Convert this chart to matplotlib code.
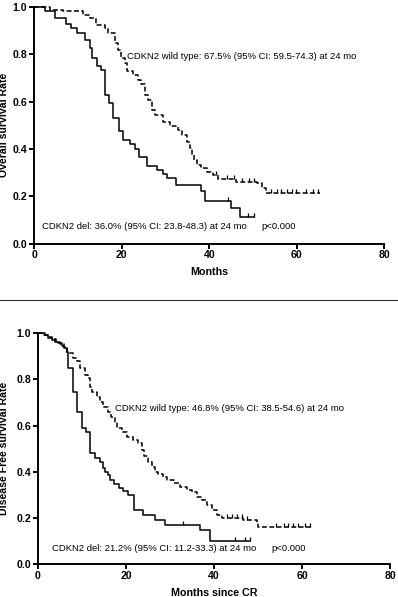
"""
Kaplan-Meier curves for CDKN2 deleted vs wild type (OS and DFS).
"""

import matplotlib

matplotlib.use("Agg")
import matplotlib.pyplot as plt
from matplotlib.lines import Line2D
from matplotlib.path import Path

plt.rcParams["font.family"] = ["Liberation Sans", "DejaVu Sans"]

# Overall survival - CDKN2 del (solid)
os_del_t = [0, 2.4, 4.7, 7.2, 8.5, 9.7, 11.6, 12.7, 13.3, 14.3, 15.2, 16.2, 17.1,
            18.1, 19.3, 20.2, 21.9, 23.0, 24.0, 25.8, 28.0, 29.5, 30.3, 32.5,
            38.0, 39.0, 45.0, 47.1]
os_del_s = [1.0, 0.983, 0.954, 0.93, 0.912, 0.89, 0.862, 0.827, 0.785, 0.749,
            0.735, 0.629, 0.594, 0.53, 0.474, 0.439, 0.42, 0.40, 0.368, 0.328,
            0.311, 0.293, 0.276, 0.248, 0.224, 0.181, 0.15, 0.111]
os_del_end = 50.2
os_del_cens = [44.2, 48.8, 50.2]

# Overall survival - CDKN2 wild type (dashed)
os_wt_t = [0, 3.6, 6.6, 11.2, 12.7, 14.2, 16.2, 16.9, 18.4, 19.2, 19.9, 20.7,
           21.1, 22.6, 23.8, 24.4, 25.3, 26.0, 26.8, 27.6, 29.5, 31.0, 32.9,
           33.7, 34.8, 35.5, 36.0, 36.5, 37.1, 38.2, 39.4, 40.9, 42.0, 46.2,
           50.8, 52.0, 53.0]
os_wt_s = [1.0, 0.989, 0.982, 0.968, 0.954, 0.926, 0.912, 0.89, 0.848, 0.82,
           0.785, 0.764, 0.728, 0.714, 0.693, 0.675, 0.629, 0.608, 0.566, 0.544,
           0.516, 0.495, 0.481, 0.46, 0.431, 0.403, 0.375, 0.354, 0.333, 0.318,
           0.304, 0.29, 0.272, 0.262, 0.255, 0.234, 0.213]
os_wt_end = 65.3
os_wt_cens = [41.5, 44.0, 45.6, 47.5, 49.0, 50.2, 54.2, 55.4, 56.5, 57.7,
              58.8, 59.9, 62.2, 63.7, 64.9]

# Disease free survival - CDKN2 del (solid)
dfs_del_t = [0, 1.6, 2.3, 3.1, 3.9, 4.6, 5.4, 5.8, 6.5, 6.9, 7.9, 8.8, 9.9,
             10.9, 11.8, 13.0, 14.1, 14.8, 15.3, 15.8, 16.4, 17.3, 18.3, 19.4,
             20.5, 21.8, 23.9, 26.6, 28.9, 36.8, 39.1]
dfs_del_s = [1.0, 0.993, 0.981, 0.971, 0.964, 0.957, 0.946, 0.935, 0.92, 0.851,
             0.747, 0.66, 0.588, 0.573, 0.48, 0.458, 0.443, 0.415, 0.40, 0.386,
             0.364, 0.347, 0.328, 0.318, 0.299, 0.234, 0.212, 0.191, 0.17,
             0.147, 0.10]
dfs_del_end = 48.2
dfs_del_cens = [32.9, 44.8, 47.0, 48.2]

# Disease free survival - CDKN2 wild type (dashed)
dfs_wt_t = [0, 1.0, 2.2, 3.1, 4.2, 5.0, 5.8, 6.5, 8.0, 8.8, 9.5, 10.7, 11.4,
            11.8, 12.2, 13.3, 14.1, 14.8, 16.0, 16.7, 17.5, 17.9, 19.0, 20.2,
            21.7, 22.8, 23.6, 24.0, 25.1, 25.8, 26.6, 27.3, 28.5, 29.3, 30.8,
            32.3, 33.8, 34.9, 36.1, 37.2, 38.3, 39.5, 40.6, 41.8, 46.7, 49.7,
            50.0]
dfs_wt_s = [1.0, 0.993, 0.985, 0.975, 0.963, 0.955, 0.94, 0.913, 0.892, 0.88,
            0.848, 0.819, 0.805, 0.769, 0.747, 0.725, 0.704, 0.682, 0.66, 0.638,
            0.617, 0.588, 0.573, 0.552, 0.537, 0.523, 0.494, 0.468, 0.443,
            0.422, 0.40, 0.39, 0.378, 0.364, 0.35, 0.335, 0.321, 0.311, 0.289,
            0.277, 0.256, 0.234, 0.212, 0.198, 0.191, 0.176, 0.162]
dfs_wt_end = 62.2
dfs_wt_cens = [42.9, 44.0, 45.2, 46.3, 47.4, 54.2, 55.8, 56.9, 58.0, 59.2,
               60.7, 61.8]

x_ticks = [0, 20, 40, 60, 80]
y_ticks = [0.0, 0.2, 0.4, 0.6, 0.8, 1.0]

# upward tick used as censor mark
CENSOR = Path([(0, 0), (0, 1)], [Path.MOVETO, Path.LINETO])
DASH = (0, (3.2, 1.6))


def level_at(times, surv, t):
    val = surv[0]
    for ti, si in zip(times, surv):
        if ti <= t:
            val = si
    return val


def draw_curve(ax, times, surv, end, cens, ls):
    xs = list(times) + [end]
    ys = list(surv) + [surv[-1]]
    ax.step(xs, ys, where="post", color="black", lw=1.1, ls=ls, clip_on=False)
    cy = [level_at(times, surv, c) for c in cens]
    ax.plot(cens, cy, ls="none", marker=CENSOR, ms=6, mew=0.9,
            color="black", clip_on=False)


def style_axes(ax, xlabel, ylabel, xlab_y, ylab_x):
    ax.set_xlim(0, 80)
    ax.set_ylim(0, 1.0)
    ax.set_xticks(x_ticks)
    ax.set_yticks(y_ticks)
    ax.set_yticklabels([f"{v:.1f}" for v in y_ticks])
    for side in ("top", "right"):
        ax.spines[side].set_visible(False)
    for side in ("left", "bottom"):
        ax.spines[side].set_linewidth(1.4)
    ax.tick_params(direction="out", length=3.5, width=1.4, pad=1.5,
                   labelsize=7.6)
    for lab in ax.get_xticklabels() + ax.get_yticklabels():
        lab.set_fontweight("bold")
    ax.set_xlabel(xlabel, fontsize=7.7, fontweight="bold")
    ax.set_ylabel(ylabel, fontsize=7.6, fontweight="bold")
    ax.xaxis.set_label_coords(0.5, xlab_y)
    ax.yaxis.set_label_coords(ylab_x, 0.5)


def main():
    fig = plt.figure(figsize=(3.98, 5.97), dpi=100)
    ax1 = fig.add_axes([0.0862, 0.5921, 0.8794, 0.396])
    ax2 = fig.add_axes([0.0955, 0.0553, 0.8844, 0.3864])

    draw_curve(ax1, os_del_t, os_del_s, os_del_end, os_del_cens, "-")
    draw_curve(ax1, os_wt_t, os_wt_s, os_wt_end, os_wt_cens, DASH)
    style_axes(ax1, "Months", "Overall survival Rate", -0.098, -0.071)
    fs = 6.8
    ax1.text(21.2, 0.79, "CDKN2 wild type: 67.5% (95% CI: 59.5-74.3) at 24 mo",
             fontsize=fs, va="center")
    ax1.text(1.8, 0.07, "CDKN2 del: 36.0% (95% CI: 23.8-48.3) at 24 mo",
             fontsize=fs, va="center")
    ax1.text(51.8, 0.07, "p<0.000", fontsize=fs, va="center")

    draw_curve(ax2, dfs_del_t, dfs_del_s, dfs_del_end, dfs_del_cens, "-")
    draw_curve(ax2, dfs_wt_t, dfs_wt_s, dfs_wt_end, dfs_wt_cens, DASH)
    style_axes(ax2, "Months since CR", "Disease Free survival Rate", -0.105,
               -0.081)
    ax2.text(17.5, 0.672, "CDKN2 wild type: 46.8% (95% CI: 38.5-54.6) at 24 mo",
             fontsize=fs, va="center")
    ax2.text(3.1, 0.065, "CDKN2 del: 21.2% (95% CI: 11.2-33.3) at 24 mo",
             fontsize=fs, va="center")
    ax2.text(53.0, 0.065, "p<0.000", fontsize=fs, va="center")

    # separator between the two panels
    fig.add_artist(Line2D([0, 1], [1 - 300 / 597] * 2, color="#333333",
                          lw=0.8, transform=fig.transFigure))

    fig.savefig("out.png", dpi=100)
    return 0


if __name__ == "__main__":
    main()
